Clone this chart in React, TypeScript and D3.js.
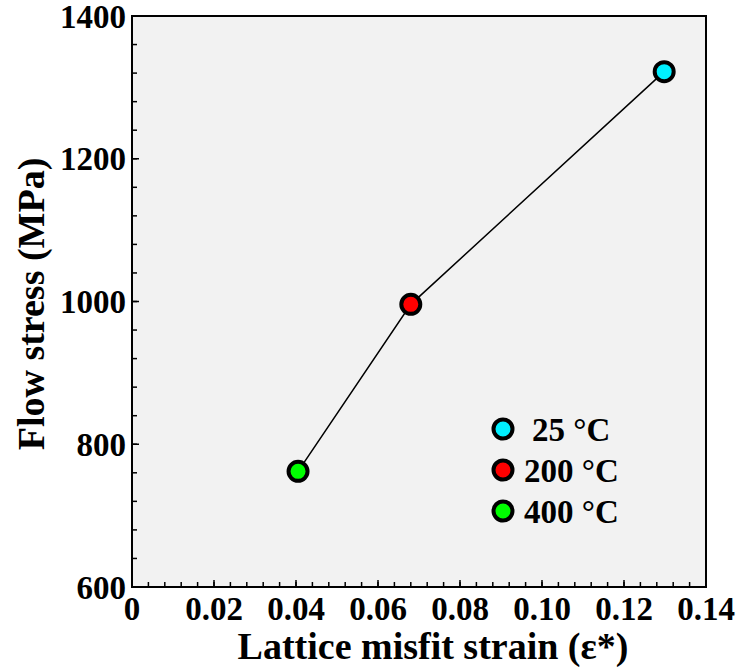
import React from "react";
import * as d3 from "d3";

const temps = ["25 °C", "200 °C", "400 °C"];
const misfit = [0.1298, 0.068, 0.0405];
const stress = [1322, 996, 762];
const colors = ["#00f0ff", "#ff0000", "#00ff00"];
const xTicks = [0, 0.02, 0.04, 0.06, 0.08, 0.1, 0.12, 0.14];
const xTickLabels = ["0", "0.02", "0.04", "0.06", "0.08", "0.10", "0.12", "0.14"];
const yTicks = [600, 800, 1000, 1200, 1400];

const W = 737, H = 669;
const L = 132, R = 706, T = 16, B = 587;
const font = "'Liberation Serif', 'Times New Roman', serif";

export default function App() {
  const x = d3.scaleLinear().domain([0, 0.14]).range([L, R]);
  const y = d3.scaleLinear().domain([600, 1400]).range([B, T]);
  const xMinor = d3.range(0, 0.14 + 1e-9, 0.004);
  const yMinor = d3.range(600, 1400 + 1e-9, 40);
  const pts = misfit.map((m, i) => ({ x: m, y: stress[i], c: colors[i] }));
  const sorted = [...pts].sort((a, b) => a.x - b.x);
  const line = d3.line<any>().x(d => x(d.x)).y(d => y(d.y));
  return (
    <svg width={W} height={H} style={{ position: "absolute", left: 0, top: 0 }}>
      <rect x={L} y={T} width={R - L} height={B - T} fill="#f2f2f2" />
      {xMinor.map((v, i) => (
        <line key={"xm" + i} x1={x(v)} x2={x(v)} y1={B} y2={B - 5} stroke="#000" strokeWidth={1.5} />
      ))}
      {yMinor.map((v, i) => (
        <line key={"ym" + i} x1={L} x2={L + 5} y1={y(v)} y2={y(v)} stroke="#000" strokeWidth={1.5} />
      ))}
      {xTicks.map((v, i) => (
        <line key={"xM" + i} x1={x(v)} x2={x(v)} y1={B} y2={B - 7} stroke="#000" strokeWidth={1.5} />
      ))}
      {yTicks.map((v, i) => (
        <line key={"yM" + i} x1={L} x2={L + 7} y1={y(v)} y2={y(v)} stroke="#000" strokeWidth={1.5} />
      ))}
      <rect x={L} y={T} width={R - L} height={B - T} fill="none" stroke="#000" strokeWidth={2} />
      {xTicks.map((v, i) => (
        <text key={"xl" + i} x={x(v)} y={620} textAnchor="middle" fontFamily={font} fontWeight="bold" fontSize={33}>
          {xTickLabels[i]}
        </text>
      ))}
      {yTicks.map((v, i) => (
        <text key={"yl" + i} x={126} y={y(v)} dy="0.35em" textAnchor="end" fontFamily={font} fontWeight="bold" fontSize={33}>
          {v}
        </text>
      ))}
      <text x={433} y={659} textAnchor="middle" fontFamily={font} fontWeight="bold" fontSize={38}>
        Lattice misfit strain (ε*)
      </text>
      <text transform={`translate(44,304) rotate(-90)`} textAnchor="middle" fontFamily={font} fontWeight="bold" fontSize={38}>
        Flow stress (MPa)
      </text>
      <path d={line(sorted) || ""} fill="none" stroke="#000" strokeWidth={1.5} />
      {pts.map((p, i) => (
        <circle key={"p" + i} cx={x(p.x)} cy={y(p.y)} r={9.5} fill={p.c} stroke="#000" strokeWidth={4} />
      ))}
      {temps.map((t, i) => (
        <g key={"lg" + i}>
          <circle cx={503} cy={429 + i * 41} r={9.5} fill={colors[i]} stroke="#000" strokeWidth={4} />
          <text x={i === 0 ? 532 : 524} y={429 + i * 41} dy="0.35em" fontFamily={font} fontWeight="bold" fontSize={33}>
            {t}
          </text>
        </g>
      ))}
    </svg>
  );
}
